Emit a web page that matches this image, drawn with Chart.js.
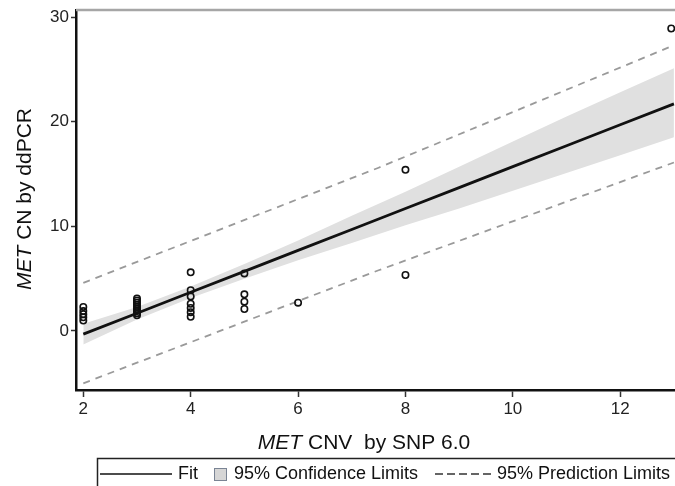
<!DOCTYPE html>
<html>
<head>
<meta charset="utf-8">
<script src="https://cdn.jsdelivr.net/npm/chart.js@4/dist/chart.umd.min.js"></script>
<style>
  html, body { margin: 0; padding: 0; background: #fff; }
  #wrap { position: relative; width: 675px; height: 486px; }
</style>
</head>
<body>
<div id="wrap"><canvas id="c" width="675" height="486"></canvas></div>
<script>
// ---- data ----
const bandX   = [2, 3, 4, 5, 6, 7, 8, 9, 10, 11, 12, 13];
const fitY    = [-0.3, 1.7, 3.7, 5.7, 7.7, 9.7, 11.7, 13.7, 15.7, 17.7, 19.7, 21.7];
const ciUpper = [0.7, 2.3, 4.25, 6.4, 8.65, 11.0, 13.3, 15.7, 18.1, 20.5, 22.8, 25.1];
const ciLower = [-1.3, 1.1, 3.15, 5.0, 6.75, 8.4, 10.1, 11.7, 13.4, 15.1, 16.8, 18.5];
const predX     = [2, 7.5, 13];
const predUpper = [4.6, 15.6, 27.3];
const predLower = [-5.0, 5.8, 16.1];
const obsX = [2, 2, 2, 2, 2,
              3, 3, 3, 3, 3, 3, 3, 3, 3,
              4, 4, 4, 4, 4, 4, 4,
              5, 5, 5, 5,
              6,
              8, 8,
              12.95];
const obsY = [2.3, 1.9, 1.6, 1.3, 1.0,
              3.1, 2.9, 2.7, 2.5, 2.3, 2.1, 1.9, 1.7, 1.5,
              5.6, 3.9, 3.3, 2.6, 2.2, 1.8, 1.35,
              5.5, 3.5, 2.8, 2.1,
              2.7,
              15.4, 5.35,
              28.9];
const xTicks = [2, 4, 6, 8, 10, 12];
const yTicks = [0, 10, 20, 30];
const xTitleItalic = 'MET', xTitleRest = ' CNV  by SNP 6.0';
const yTitleItalic = 'MET', yTitleRest = ' CN by ddPCR';
const legendLabels = ['Fit', '95% Confidence Limits', '95% Prediction Limits'];

const zip = (xs, ys) => xs.map((x, i) => ({x: x, y: ys[i]}));
const FONT = '"Liberation Sans", Arial, sans-serif';

const decor = {
  id: 'decor',
  beforeDatasetsDraw(chart) {
    const {ctx, chartArea: a} = chart;
    ctx.save();
    ctx.strokeStyle = '#a6a6a6';
    ctx.lineWidth = 2.5;
    ctx.beginPath();
    ctx.moveTo(a.left, a.top);
    ctx.lineTo(a.right, a.top);
    ctx.stroke();
    ctx.restore();
  },
  afterDraw(chart) {
    const {ctx} = chart;
    ctx.save();
    ctx.fillStyle = '#111';
    ctx.textBaseline = 'middle';
    const TS = 21;
    // x title
    ctx.font = 'italic ' + TS + 'px ' + FONT;
    const w1 = ctx.measureText(xTitleItalic).width;
    ctx.font = TS + 'px ' + FONT;
    const w2 = ctx.measureText(xTitleRest).width;
    let x0 = 364 - (w1 + w2) / 2;
    ctx.textAlign = 'left';
    ctx.font = 'italic ' + TS + 'px ' + FONT;
    ctx.fillText(xTitleItalic, x0, 443);
    ctx.font = TS + 'px ' + FONT;
    ctx.fillText(xTitleRest, x0 + w1, 443);
    // y title
    ctx.save();
    ctx.translate(25, 199);
    ctx.rotate(-Math.PI / 2);
    ctx.font = 'italic ' + TS + 'px ' + FONT;
    const v1 = ctx.measureText(yTitleItalic).width;
    ctx.font = TS + 'px ' + FONT;
    const v2 = ctx.measureText(yTitleRest).width;
    let y0 = -(v1 + v2) / 2;
    ctx.font = 'italic ' + TS + 'px ' + FONT;
    ctx.fillText(yTitleItalic, y0, 0);
    ctx.font = TS + 'px ' + FONT;
    ctx.fillText(yTitleRest, y0 + v1, 0);
    ctx.restore();
    // legend box
    ctx.strokeStyle = '#222';
    ctx.lineWidth = 1.5;
    ctx.strokeRect(97.5, 458.5, 700, 100);
    const ly = 474;
    ctx.lineWidth = 1.5;
    ctx.strokeStyle = '#111';
    ctx.beginPath(); ctx.moveTo(100, ly); ctx.lineTo(172, ly); ctx.stroke();
    ctx.font = '18px ' + FONT;
    ctx.fillStyle = '#111';
    ctx.fillText(legendLabels[0], 178, ly);
    ctx.fillStyle = '#d6d6d6';
    ctx.fillRect(214.5, 468.5, 12, 12);
    ctx.strokeStyle = '#7a8494';
    ctx.lineWidth = 1;
    ctx.strokeRect(214.5, 468.5, 12, 12);
    ctx.fillStyle = '#111';
    ctx.fillText(legendLabels[1], 234, ly);
    ctx.strokeStyle = '#333';
    ctx.lineWidth = 1.5;
    ctx.setLineDash([8, 4]);
    ctx.beginPath(); ctx.moveTo(435, ly); ctx.lineTo(491, ly); ctx.stroke();
    ctx.setLineDash([]);
    ctx.fillText(legendLabels[2], 497, ly);
    ctx.restore();
  }
};

new Chart(document.getElementById('c'), {
  type: 'scatter',
  data: {
    datasets: [
      { data: zip(bandX, ciUpper), showLine: true, borderWidth: 0, pointRadius: 0,
        borderColor: 'rgba(0,0,0,0)', backgroundColor: '#e0e0e0', fill: '+1', order: 5 },
      { data: zip(bandX, ciLower), showLine: true, borderWidth: 0, pointRadius: 0,
        borderColor: 'rgba(0,0,0,0)', fill: false, order: 5 },
      { data: zip(predX, predUpper), showLine: true, borderWidth: 1.8, pointRadius: 0,
        borderColor: '#9a9a9a', borderDash: [7, 6], fill: false, order: 3 },
      { data: zip(predX, predLower), showLine: true, borderWidth: 1.8, pointRadius: 0,
        borderColor: '#9a9a9a', borderDash: [7, 6], fill: false, order: 3 },
      { data: zip(bandX, fitY), showLine: true, borderWidth: 2.8, pointRadius: 0,
        borderColor: '#111', fill: false, order: 2 },
      { data: zip(obsX, obsY), showLine: false, pointRadius: 3.2, pointBorderWidth: 1.6,
        pointBorderColor: '#111', pointBackgroundColor: 'rgba(255,255,255,0)', order: 1 }
    ]
  },
  options: {
    responsive: false,
    animation: false,
    events: [],
    layout: { autoPadding: false, padding: { left: 0, right: 0, top: 10, bottom: 0 } },
    plugins: { legend: { display: false }, tooltip: { enabled: false } },
    scales: {
      x: {
        type: 'linear', min: 1.864, max: 13.02,
        afterFit: s => { s.height = 96; s.paddingLeft = 0; s.paddingRight = 0; },
        afterBuildTicks: s => { s.ticks = xTicks.map(v => ({value: v})); },
        grid: { display: true, drawOnChartArea: false, drawTicks: true, tickLength: 7, tickColor: '#333', tickWidth: 1.5 },
        border: { display: true, color: '#111', width: 2.5 },
        ticks: { color: '#222', font: { family: FONT, size: 17 }, padding: 2, maxRotation: 0 }
      },
      y: {
        type: 'linear', min: -5.64, max: 30.67,
        afterFit: s => { s.width = 76; s.paddingTop = 0; s.paddingBottom = 0; },
        afterBuildTicks: s => { s.ticks = yTicks.map(v => ({value: v})); },
        grid: { display: true, drawOnChartArea: false, drawTicks: true, tickLength: 5, tickColor: '#333', tickWidth: 1.5 },
        border: { display: true, color: '#111', width: 2.5 },
        ticks: { color: '#222', font: { family: FONT, size: 17 }, padding: 2 }
      }
    }
  },
  plugins: [decor]
});
</script>
</body>
</html>
